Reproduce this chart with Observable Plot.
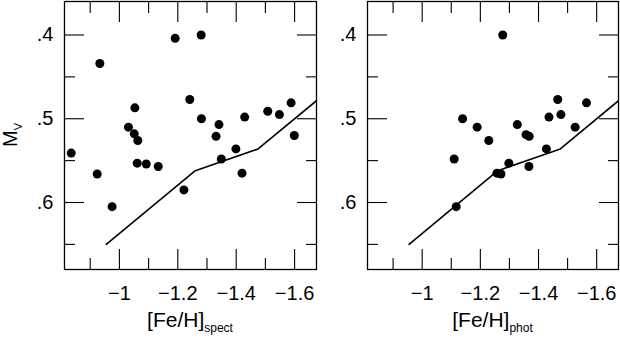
<!DOCTYPE html>
<html><head><meta charset="utf-8">
<script src="https://cdn.jsdelivr.net/npm/d3@7"></script>
<script src="https://cdn.jsdelivr.net/npm/@observablehq/plot@0.6"></script>
<style>
body{margin:0;background:#fff;}
#chart{position:relative;width:620px;height:347px;font-family:"Liberation Sans",Arial,sans-serif;}
#chart svg{position:absolute;top:0;}
</style></head><body><div id="chart"></div>
<script>
// [Fe/H]_spect vs M_V
const fehSpect = [-0.835,-0.933,-0.924,-0.975,-1.031,-1.053,-1.051,-1.063,-1.061,-1.092,-1.133,-1.191,-1.280,-1.241,-1.281,-1.221,-1.341,-1.331,-1.349,-1.399,-1.420,-1.429,-1.508,-1.548,-1.588,-1.599];
const mvSpect  = [0.541,0.434,0.566,0.605,0.510,0.487,0.518,0.526,0.553,0.554,0.557,0.404,0.400,0.477,0.500,0.585,0.507,0.521,0.548,0.536,0.565,0.498,0.491,0.495,0.481,0.520];
// [Fe/H]_phot vs M_V
const fehPhot = [-1.110,-1.117,-1.139,-1.189,-1.229,-1.257,-1.271,-1.277,-1.298,-1.327,-1.357,-1.368,-1.367,-1.427,-1.436,-1.466,-1.477,-1.526,-1.565];
const mvPhot  = [0.548,0.605,0.500,0.510,0.526,0.565,0.566,0.400,0.553,0.507,0.519,0.521,0.557,0.536,0.498,0.477,0.495,0.510,0.481];
// relation line (same in both panels)
const lineFeH = [-0.955,-1.26,-1.475,-1.68];
const lineMv  = [0.650,0.562,0.536,0.477];
// ticks
const xMajor = [-1,-1.2,-1.4,-1.6];
const xMinor = [-0.9,-1.1,-1.3,-1.5];
const yMajor = [0.4,0.5,0.6];
const yMinor = [0.45,0.55,0.65];
const xDomain = [-0.812,-1.675];
const yDomain = [0.36,0.68];
const xTitleSub = ["spect","phot"];

const FONT = '"Liberation Sans",Arial,sans-serif';
const fmtX = d => (d === -1 ? "\u22121" : "\u2212" + Math.abs(d).toFixed(1));
const fmtY = d => d.toFixed(1).replace(/^0/, "");

function ticksX(data, len) {
  const o = {tickSize: len, fill: "none", tickFormat: () => "", label: null, stroke: "black", strokeWidth: 1.1};
  return [
    Plot.axisX(data, {...o, anchor: "bottom", dy: -len}),
    Plot.axisX(data, {...o, anchor: "top", dy: len})
  ];
}
function ticksY(data, len) {
  const o = {tickSize: len, fill: "none", tickFormat: () => "", label: null, stroke: "black", strokeWidth: 1.1};
  return [
    Plot.axisY(data, {...o, anchor: "left", dx: len}),
    Plot.axisY(data, {...o, anchor: "right", dx: -len})
  ];
}

function panel(feh, mv, width, marginLeft, sub) {
  const H = 347, mt = 1, mb = 78, mr = 2;
  const fw = width - marginLeft - mr;
  const MAJ = 20, MIN = 11;
  const pts = feh.map((x, i) => ({x, y: mv[i]}));
  const ln = lineFeH.map((x, i) => ({x, y: lineMv[i]}));
  const svg = Plot.plot({
    width, height: H, marginLeft, marginRight: mr, marginTop: mt, marginBottom: mb,
    style: {fontFamily: FONT, background: "white", color: "black", overflow: "visible"},
    x: {domain: xDomain},
    y: {domain: yDomain, reverse: true},
    marks: [
      ...ticksX(xMajor, MAJ), ...ticksX(xMinor, MIN),
      ...ticksY(yMajor, MAJ), ...ticksY(yMinor, MIN),
      Plot.axisX(xMajor, {anchor: "bottom", tickSize: 0, tickPadding: 16, tickFormat: fmtX, label: null, fontSize: 20, fill: "black"}),
      Plot.axisY(yMajor, {anchor: "left", tickSize: 0, tickPadding: 11, tickFormat: fmtY, label: null, fontSize: 20, fill: "black"}),
      Plot.line(ln, {x: "x", y: "y", stroke: "black", strokeWidth: 1.6, clip: "frame"}),
      Plot.dot(pts, {x: "x", y: "y", r: 4.5, fill: "black", stroke: "none"}),
      Plot.frame({stroke: "black", strokeWidth: 1.3})
    ]
  });
  const s = d3.select(svg);
  const cx = marginLeft + fw / 2;
  const t = s.append("text").attr("x", cx).attr("y", 327).attr("text-anchor", "middle")
    .attr("font-family", FONT).attr("font-size", 21).attr("fill", "black");
  t.append("tspan").text("[Fe/H]");
  t.append("tspan").attr("font-size", 12).attr("dy", 5).text(sub);
  return svg;
}

const root = document.getElementById("chart");
const left = panel(fehSpect, mvSpect, 318, 64, xTitleSub[0]);
left.style.left = "0px";
const mt = d3.select(left).append("text").attr("transform", "translate(17,135) rotate(-90)")
  .attr("text-anchor", "middle").attr("font-family", FONT).attr("font-size", 20).attr("fill", "black");
mt.append("tspan").text("M");
mt.append("tspan").attr("font-size", 11).attr("dy", 5).text("V");
root.appendChild(left);
const right = panel(fehPhot, mvPhot, 302, 49, xTitleSub[1]);
right.style.left = "318px";
root.appendChild(right);
</script></body></html>
